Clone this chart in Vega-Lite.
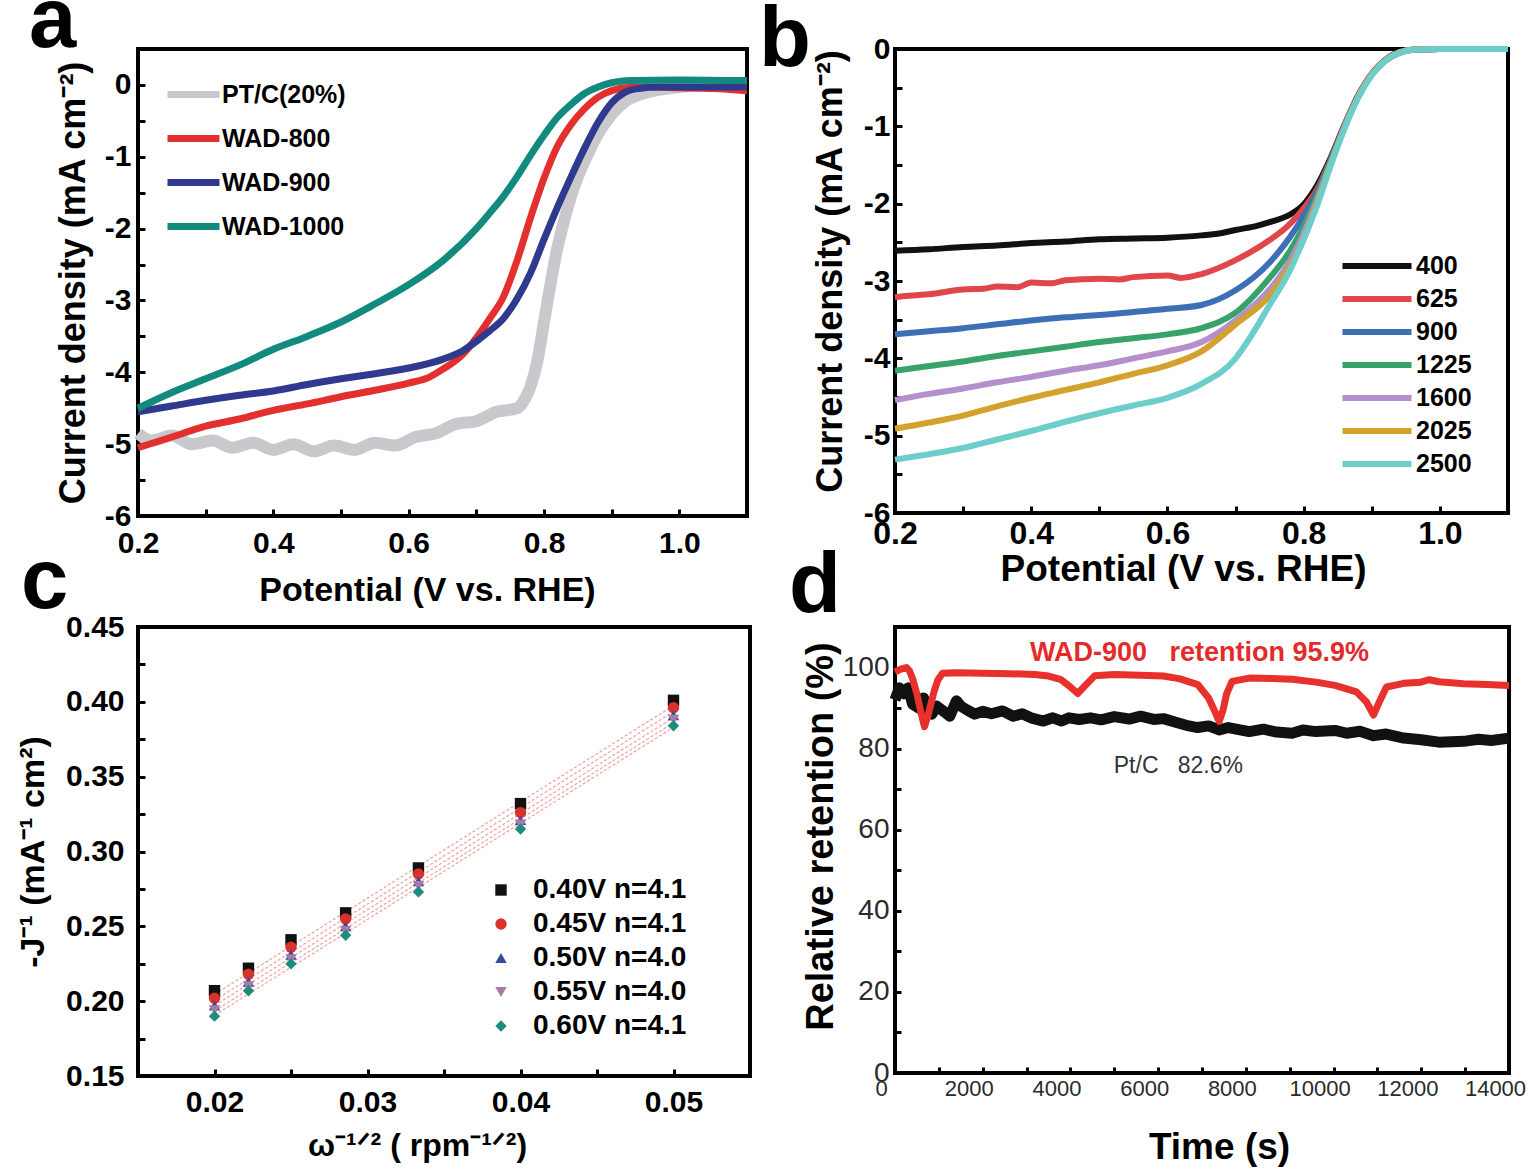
{
  "$schema": "https://vega.github.io/schema/vega-lite/v6.json",
  "background": "white",
  "padding": {"left": 14, "top": -23, "right": 0, "bottom": 0},
  "columns": 2,
  "bounds": "flush",
  "align": "each",
  "spacing": {"row": 111, "column": 145},
  "config": {
    "font": "Liberation Sans",
    "view": {"stroke": "black", "strokeWidth": 4},
    "axis": {
      "grid": false, "domain": false, "tickColor": "black", "tickWidth": 3, "tickSize": -7,
      "labelFont": "Liberation Sans", "labelFontWeight": "bold", "labelColor": "black",
      "titleFont": "Liberation Sans", "titleFontWeight": "bold", "titleColor": "black",
      "labelFlush": false, "labelOverlap": false, "labelBound": false
    },
    "title": {"anchor": "start", "frame": "group", "fontSize": 85, "font": "Liberation Sans", "fontWeight": "bold", "baseline": "alphabetic", "color": "black"},
    "legend": {"title": null, "orient": "none", "padding": 0, "labelFont": "Liberation Sans", "labelFontWeight": "bold", "labelColor": "black"}
  },
  "resolve": {
    "scale": {"color": "independent", "shape": "independent"},
    "legend": {"color": "independent", "shape": "independent"}
  },
  "datasets": {
    "lsv": [
      {"s": "PT/C(20%)", "V": 0.2, "J": -4.85}, {"s": "PT/C(20%)", "V": 0.22, "J": -4.95}, {"s": "PT/C(20%)", "V": 0.25, "J": -4.88},
      {"s": "PT/C(20%)", "V": 0.28, "J": -5.0}, {"s": "PT/C(20%)", "V": 0.31, "J": -4.95}, {"s": "PT/C(20%)", "V": 0.34, "J": -5.05},
      {"s": "PT/C(20%)", "V": 0.37, "J": -4.98}, {"s": "PT/C(20%)", "V": 0.4, "J": -5.08}, {"s": "PT/C(20%)", "V": 0.43, "J": -5.0},
      {"s": "PT/C(20%)", "V": 0.46, "J": -5.1}, {"s": "PT/C(20%)", "V": 0.49, "J": -5.02}, {"s": "PT/C(20%)", "V": 0.52, "J": -5.08},
      {"s": "PT/C(20%)", "V": 0.55, "J": -4.98}, {"s": "PT/C(20%)", "V": 0.58, "J": -5.02}, {"s": "PT/C(20%)", "V": 0.61, "J": -4.9},
      {"s": "PT/C(20%)", "V": 0.64, "J": -4.85}, {"s": "PT/C(20%)", "V": 0.67, "J": -4.72}, {"s": "PT/C(20%)", "V": 0.7, "J": -4.68},
      {"s": "PT/C(20%)", "V": 0.73, "J": -4.55}, {"s": "PT/C(20%)", "V": 0.76, "J": -4.5}, {"s": "PT/C(20%)", "V": 0.77, "J": -4.4},
      {"s": "PT/C(20%)", "V": 0.78, "J": -4.2}, {"s": "PT/C(20%)", "V": 0.79, "J": -3.85}, {"s": "PT/C(20%)", "V": 0.8, "J": -3.3},
      {"s": "PT/C(20%)", "V": 0.81, "J": -2.75}, {"s": "PT/C(20%)", "V": 0.82, "J": -2.26}, {"s": "PT/C(20%)", "V": 0.83, "J": -1.88},
      {"s": "PT/C(20%)", "V": 0.84, "J": -1.55}, {"s": "PT/C(20%)", "V": 0.85, "J": -1.28}, {"s": "PT/C(20%)", "V": 0.86, "J": -1.06},
      {"s": "PT/C(20%)", "V": 0.87, "J": -0.86}, {"s": "PT/C(20%)", "V": 0.88, "J": -0.68}, {"s": "PT/C(20%)", "V": 0.9, "J": -0.41},
      {"s": "PT/C(20%)", "V": 0.92, "J": -0.23}, {"s": "PT/C(20%)", "V": 0.95, "J": -0.11}, {"s": "PT/C(20%)", "V": 1.0, "J": -0.03},
      {"s": "PT/C(20%)", "V": 1.05, "J": 0.0}, {"s": "PT/C(20%)", "V": 1.1, "J": 0.0},

      {"s": "WAD-800", "V": 0.2, "J": -5.05}, {"s": "WAD-800", "V": 0.25, "J": -4.9}, {"s": "WAD-800", "V": 0.3, "J": -4.75},
      {"s": "WAD-800", "V": 0.35, "J": -4.65}, {"s": "WAD-800", "V": 0.4, "J": -4.53}, {"s": "WAD-800", "V": 0.45, "J": -4.44},
      {"s": "WAD-800", "V": 0.5, "J": -4.34}, {"s": "WAD-800", "V": 0.55, "J": -4.25}, {"s": "WAD-800", "V": 0.6, "J": -4.15},
      {"s": "WAD-800", "V": 0.63, "J": -4.07}, {"s": "WAD-800", "V": 0.65, "J": -3.96}, {"s": "WAD-800", "V": 0.68, "J": -3.75},
      {"s": "WAD-800", "V": 0.7, "J": -3.52}, {"s": "WAD-800", "V": 0.72, "J": -3.25}, {"s": "WAD-800", "V": 0.74, "J": -2.95},
      {"s": "WAD-800", "V": 0.76, "J": -2.45}, {"s": "WAD-800", "V": 0.78, "J": -1.85}, {"s": "WAD-800", "V": 0.8, "J": -1.3},
      {"s": "WAD-800", "V": 0.82, "J": -0.85}, {"s": "WAD-800", "V": 0.84, "J": -0.55}, {"s": "WAD-800", "V": 0.86, "J": -0.33},
      {"s": "WAD-800", "V": 0.88, "J": -0.17}, {"s": "WAD-800", "V": 0.9, "J": -0.08}, {"s": "WAD-800", "V": 0.92, "J": -0.04},
      {"s": "WAD-800", "V": 0.95, "J": -0.03}, {"s": "WAD-800", "V": 1.0, "J": -0.04}, {"s": "WAD-800", "V": 1.05, "J": -0.05},
      {"s": "WAD-800", "V": 1.1, "J": -0.08},

      {"s": "WAD-900", "V": 0.2, "J": -4.55}, {"s": "WAD-900", "V": 0.25, "J": -4.47}, {"s": "WAD-900", "V": 0.3, "J": -4.39},
      {"s": "WAD-900", "V": 0.35, "J": -4.32}, {"s": "WAD-900", "V": 0.4, "J": -4.26}, {"s": "WAD-900", "V": 0.45, "J": -4.17},
      {"s": "WAD-900", "V": 0.5, "J": -4.09}, {"s": "WAD-900", "V": 0.55, "J": -4.02}, {"s": "WAD-900", "V": 0.6, "J": -3.94},
      {"s": "WAD-900", "V": 0.65, "J": -3.82}, {"s": "WAD-900", "V": 0.68, "J": -3.7}, {"s": "WAD-900", "V": 0.7, "J": -3.57},
      {"s": "WAD-900", "V": 0.72, "J": -3.42}, {"s": "WAD-900", "V": 0.74, "J": -3.25}, {"s": "WAD-900", "V": 0.76, "J": -2.98},
      {"s": "WAD-900", "V": 0.78, "J": -2.62}, {"s": "WAD-900", "V": 0.8, "J": -2.15}, {"s": "WAD-900", "V": 0.82, "J": -1.7},
      {"s": "WAD-900", "V": 0.84, "J": -1.28}, {"s": "WAD-900", "V": 0.86, "J": -0.88}, {"s": "WAD-900", "V": 0.88, "J": -0.52},
      {"s": "WAD-900", "V": 0.9, "J": -0.25}, {"s": "WAD-900", "V": 0.92, "J": -0.1}, {"s": "WAD-900", "V": 0.94, "J": -0.05},
      {"s": "WAD-900", "V": 0.97, "J": -0.03}, {"s": "WAD-900", "V": 1.1, "J": -0.03},

      {"s": "WAD-1000", "V": 0.2, "J": -4.5}, {"s": "WAD-1000", "V": 0.25, "J": -4.28}, {"s": "WAD-1000", "V": 0.3, "J": -4.09},
      {"s": "WAD-1000", "V": 0.35, "J": -3.9}, {"s": "WAD-1000", "V": 0.4, "J": -3.68}, {"s": "WAD-1000", "V": 0.45, "J": -3.5},
      {"s": "WAD-1000", "V": 0.5, "J": -3.3}, {"s": "WAD-1000", "V": 0.55, "J": -3.05}, {"s": "WAD-1000", "V": 0.6, "J": -2.78},
      {"s": "WAD-1000", "V": 0.65, "J": -2.45}, {"s": "WAD-1000", "V": 0.7, "J": -2.0}, {"s": "WAD-1000", "V": 0.72, "J": -1.78},
      {"s": "WAD-1000", "V": 0.74, "J": -1.55}, {"s": "WAD-1000", "V": 0.76, "J": -1.28}, {"s": "WAD-1000", "V": 0.78, "J": -0.98},
      {"s": "WAD-1000", "V": 0.8, "J": -0.7}, {"s": "WAD-1000", "V": 0.82, "J": -0.45}, {"s": "WAD-1000", "V": 0.84, "J": -0.27},
      {"s": "WAD-1000", "V": 0.86, "J": -0.12}, {"s": "WAD-1000", "V": 0.88, "J": -0.03}, {"s": "WAD-1000", "V": 0.9, "J": 0.03},
      {"s": "WAD-1000", "V": 0.93, "J": 0.06}, {"s": "WAD-1000", "V": 1.0, "J": 0.07}, {"s": "WAD-1000", "V": 1.1, "J": 0.06}
    ],
    "rpm": [
      {"r": "400", "V": 0.2, "J": -2.61}, {"r": "400", "V": 0.25, "J": -2.59}, {"r": "400", "V": 0.3, "J": -2.56}, {"r": "400", "V": 0.35, "J": -2.54},
      {"r": "400", "V": 0.4, "J": -2.51}, {"r": "400", "V": 0.45, "J": -2.49}, {"r": "400", "V": 0.5, "J": -2.46}, {"r": "400", "V": 0.55, "J": -2.45},
      {"r": "400", "V": 0.6, "J": -2.44}, {"r": "400", "V": 0.65, "J": -2.41}, {"r": "400", "V": 0.68, "J": -2.38}, {"r": "400", "V": 0.7, "J": -2.34},
      {"r": "400", "V": 0.73, "J": -2.29}, {"r": "400", "V": 0.75, "J": -2.24}, {"r": "400", "V": 0.78, "J": -2.14}, {"r": "400", "V": 0.8, "J": -2.01},
      {"r": "400", "V": 0.82, "J": -1.76}, {"r": "400", "V": 0.84, "J": -1.4}, {"r": "400", "V": 0.86, "J": -0.98}, {"r": "400", "V": 0.88, "J": -0.6},
      {"r": "400", "V": 0.9, "J": -0.32}, {"r": "400", "V": 0.92, "J": -0.14}, {"r": "400", "V": 0.94, "J": -0.04}, {"r": "400", "V": 0.96, "J": -0.01},
      {"r": "400", "V": 1.0, "J": 0.0}, {"r": "400", "V": 1.1, "J": 0.0},

      {"r": "625", "V": 0.2, "J": -3.21}, {"r": "625", "V": 0.22, "J": -3.19}, {"r": "625", "V": 0.25, "J": -3.17}, {"r": "625", "V": 0.3, "J": -3.11},
      {"r": "625", "V": 0.33, "J": -3.1}, {"r": "625", "V": 0.35, "J": -3.07}, {"r": "625", "V": 0.38, "J": -3.08}, {"r": "625", "V": 0.4, "J": -3.02},
      {"r": "625", "V": 0.43, "J": -3.03}, {"r": "625", "V": 0.45, "J": -2.99}, {"r": "625", "V": 0.5, "J": -2.97}, {"r": "625", "V": 0.53, "J": -2.98},
      {"r": "625", "V": 0.55, "J": -2.95}, {"r": "625", "V": 0.6, "J": -2.93}, {"r": "625", "V": 0.62, "J": -2.96}, {"r": "625", "V": 0.65, "J": -2.91},
      {"r": "625", "V": 0.7, "J": -2.73}, {"r": "625", "V": 0.75, "J": -2.47}, {"r": "625", "V": 0.78, "J": -2.26}, {"r": "625", "V": 0.8, "J": -2.06},
      {"r": "625", "V": 0.82, "J": -1.81}, {"r": "625", "V": 0.84, "J": -1.42}, {"r": "625", "V": 0.86, "J": -0.99}, {"r": "625", "V": 0.88, "J": -0.61},
      {"r": "625", "V": 0.9, "J": -0.32}, {"r": "625", "V": 0.92, "J": -0.14}, {"r": "625", "V": 0.94, "J": -0.04}, {"r": "625", "V": 0.96, "J": -0.01},
      {"r": "625", "V": 1.0, "J": 0.0}, {"r": "625", "V": 1.1, "J": 0.0},

      {"r": "900", "V": 0.2, "J": -3.69}, {"r": "900", "V": 0.25, "J": -3.65}, {"r": "900", "V": 0.3, "J": -3.61}, {"r": "900", "V": 0.35, "J": -3.56},
      {"r": "900", "V": 0.4, "J": -3.51}, {"r": "900", "V": 0.45, "J": -3.47}, {"r": "900", "V": 0.5, "J": -3.44}, {"r": "900", "V": 0.55, "J": -3.4},
      {"r": "900", "V": 0.6, "J": -3.36}, {"r": "900", "V": 0.65, "J": -3.31}, {"r": "900", "V": 0.7, "J": -3.12}, {"r": "900", "V": 0.75, "J": -2.76},
      {"r": "900", "V": 0.78, "J": -2.43}, {"r": "900", "V": 0.8, "J": -2.16}, {"r": "900", "V": 0.82, "J": -1.84}, {"r": "900", "V": 0.84, "J": -1.43},
      {"r": "900", "V": 0.86, "J": -1.0}, {"r": "900", "V": 0.88, "J": -0.62}, {"r": "900", "V": 0.9, "J": -0.33}, {"r": "900", "V": 0.92, "J": -0.15},
      {"r": "900", "V": 0.94, "J": -0.05}, {"r": "900", "V": 0.96, "J": -0.01}, {"r": "900", "V": 1.0, "J": 0.0}, {"r": "900", "V": 1.1, "J": 0.0},

      {"r": "1225", "V": 0.2, "J": -4.16}, {"r": "1225", "V": 0.25, "J": -4.1}, {"r": "1225", "V": 0.3, "J": -4.04}, {"r": "1225", "V": 0.35, "J": -3.97},
      {"r": "1225", "V": 0.4, "J": -3.91}, {"r": "1225", "V": 0.45, "J": -3.85}, {"r": "1225", "V": 0.5, "J": -3.79}, {"r": "1225", "V": 0.55, "J": -3.74},
      {"r": "1225", "V": 0.6, "J": -3.69}, {"r": "1225", "V": 0.65, "J": -3.61}, {"r": "1225", "V": 0.7, "J": -3.41}, {"r": "1225", "V": 0.75, "J": -2.96},
      {"r": "1225", "V": 0.78, "J": -2.61}, {"r": "1225", "V": 0.8, "J": -2.29}, {"r": "1225", "V": 0.82, "J": -1.89}, {"r": "1225", "V": 0.84, "J": -1.45},
      {"r": "1225", "V": 0.86, "J": -1.0}, {"r": "1225", "V": 0.88, "J": -0.62}, {"r": "1225", "V": 0.9, "J": -0.33}, {"r": "1225", "V": 0.92, "J": -0.15},
      {"r": "1225", "V": 0.94, "J": -0.05}, {"r": "1225", "V": 0.96, "J": -0.01}, {"r": "1225", "V": 1.0, "J": 0.0}, {"r": "1225", "V": 1.1, "J": 0.0},

      {"r": "1600", "V": 0.2, "J": -4.54}, {"r": "1600", "V": 0.25, "J": -4.46}, {"r": "1600", "V": 0.3, "J": -4.39}, {"r": "1600", "V": 0.35, "J": -4.31},
      {"r": "1600", "V": 0.4, "J": -4.24}, {"r": "1600", "V": 0.45, "J": -4.16}, {"r": "1600", "V": 0.5, "J": -4.09}, {"r": "1600", "V": 0.55, "J": -4.0},
      {"r": "1600", "V": 0.6, "J": -3.91}, {"r": "1600", "V": 0.65, "J": -3.79}, {"r": "1600", "V": 0.7, "J": -3.51}, {"r": "1600", "V": 0.75, "J": -3.11},
      {"r": "1600", "V": 0.78, "J": -2.74}, {"r": "1600", "V": 0.8, "J": -2.39}, {"r": "1600", "V": 0.82, "J": -1.94}, {"r": "1600", "V": 0.84, "J": -1.47},
      {"r": "1600", "V": 0.86, "J": -1.01}, {"r": "1600", "V": 0.88, "J": -0.62}, {"r": "1600", "V": 0.9, "J": -0.33}, {"r": "1600", "V": 0.92, "J": -0.15},
      {"r": "1600", "V": 0.94, "J": -0.05}, {"r": "1600", "V": 0.96, "J": -0.01}, {"r": "1600", "V": 1.0, "J": 0.0}, {"r": "1600", "V": 1.1, "J": 0.0},

      {"r": "2025", "V": 0.2, "J": -4.91}, {"r": "2025", "V": 0.25, "J": -4.83}, {"r": "2025", "V": 0.3, "J": -4.74}, {"r": "2025", "V": 0.35, "J": -4.62},
      {"r": "2025", "V": 0.4, "J": -4.51}, {"r": "2025", "V": 0.45, "J": -4.41}, {"r": "2025", "V": 0.5, "J": -4.31}, {"r": "2025", "V": 0.55, "J": -4.2},
      {"r": "2025", "V": 0.6, "J": -4.09}, {"r": "2025", "V": 0.65, "J": -3.91}, {"r": "2025", "V": 0.7, "J": -3.56}, {"r": "2025", "V": 0.75, "J": -3.19},
      {"r": "2025", "V": 0.78, "J": -2.81}, {"r": "2025", "V": 0.8, "J": -2.46}, {"r": "2025", "V": 0.82, "J": -1.98}, {"r": "2025", "V": 0.84, "J": -1.48},
      {"r": "2025", "V": 0.86, "J": -1.02}, {"r": "2025", "V": 0.88, "J": -0.62}, {"r": "2025", "V": 0.9, "J": -0.33}, {"r": "2025", "V": 0.92, "J": -0.15},
      {"r": "2025", "V": 0.94, "J": -0.05}, {"r": "2025", "V": 0.96, "J": -0.01}, {"r": "2025", "V": 1.0, "J": 0.0}, {"r": "2025", "V": 1.1, "J": 0.0},

      {"r": "2500", "V": 0.2, "J": -5.31}, {"r": "2500", "V": 0.25, "J": -5.24}, {"r": "2500", "V": 0.3, "J": -5.16}, {"r": "2500", "V": 0.35, "J": -5.05},
      {"r": "2500", "V": 0.4, "J": -4.94}, {"r": "2500", "V": 0.45, "J": -4.82}, {"r": "2500", "V": 0.5, "J": -4.71}, {"r": "2500", "V": 0.55, "J": -4.61},
      {"r": "2500", "V": 0.6, "J": -4.51}, {"r": "2500", "V": 0.65, "J": -4.33}, {"r": "2500", "V": 0.7, "J": -4.0}, {"r": "2500", "V": 0.72, "J": -3.75},
      {"r": "2500", "V": 0.75, "J": -3.31}, {"r": "2500", "V": 0.78, "J": -2.86}, {"r": "2500", "V": 0.8, "J": -2.46}, {"r": "2500", "V": 0.82, "J": -2.02},
      {"r": "2500", "V": 0.84, "J": -1.5}, {"r": "2500", "V": 0.86, "J": -1.03}, {"r": "2500", "V": 0.88, "J": -0.63}, {"r": "2500", "V": 0.9, "J": -0.34},
      {"r": "2500", "V": 0.92, "J": -0.15}, {"r": "2500", "V": 0.94, "J": -0.05}, {"r": "2500", "V": 0.96, "J": -0.01}, {"r": "2500", "V": 1.0, "J": 0.0},
      {"r": "2500", "V": 1.1, "J": 0.0}
    ],
    "klpts": [
      {"s": "0.40V n=4.1", "w": 0.02, "J": 0.207}, {"s": "0.40V n=4.1", "w": 0.02222, "J": 0.222}, {"s": "0.40V n=4.1", "w": 0.025, "J": 0.241},
      {"s": "0.40V n=4.1", "w": 0.02857, "J": 0.259}, {"s": "0.40V n=4.1", "w": 0.03333, "J": 0.289}, {"s": "0.40V n=4.1", "w": 0.04, "J": 0.332},
      {"s": "0.40V n=4.1", "w": 0.05, "J": 0.401},
      {"s": "0.45V n=4.1", "w": 0.02, "J": 0.202}, {"s": "0.45V n=4.1", "w": 0.02222, "J": 0.218}, {"s": "0.45V n=4.1", "w": 0.025, "J": 0.236},
      {"s": "0.45V n=4.1", "w": 0.02857, "J": 0.255}, {"s": "0.45V n=4.1", "w": 0.03333, "J": 0.285}, {"s": "0.45V n=4.1", "w": 0.04, "J": 0.326},
      {"s": "0.45V n=4.1", "w": 0.05, "J": 0.396},
      {"s": "0.50V n=4.0", "w": 0.02, "J": 0.197}, {"s": "0.50V n=4.0", "w": 0.02222, "J": 0.213}, {"s": "0.50V n=4.0", "w": 0.025, "J": 0.231},
      {"s": "0.50V n=4.0", "w": 0.02857, "J": 0.25}, {"s": "0.50V n=4.0", "w": 0.03333, "J": 0.28}, {"s": "0.50V n=4.0", "w": 0.04, "J": 0.321},
      {"s": "0.50V n=4.0", "w": 0.05, "J": 0.391},
      {"s": "0.55V n=4.0", "w": 0.02, "J": 0.194}, {"s": "0.55V n=4.0", "w": 0.02222, "J": 0.21}, {"s": "0.55V n=4.0", "w": 0.025, "J": 0.228},
      {"s": "0.55V n=4.0", "w": 0.02857, "J": 0.247}, {"s": "0.55V n=4.0", "w": 0.03333, "J": 0.277}, {"s": "0.55V n=4.0", "w": 0.04, "J": 0.318},
      {"s": "0.55V n=4.0", "w": 0.05, "J": 0.388},
      {"s": "0.60V n=4.1", "w": 0.02, "J": 0.19}, {"s": "0.60V n=4.1", "w": 0.02222, "J": 0.207}, {"s": "0.60V n=4.1", "w": 0.025, "J": 0.225},
      {"s": "0.60V n=4.1", "w": 0.02857, "J": 0.244}, {"s": "0.60V n=4.1", "w": 0.03333, "J": 0.273}, {"s": "0.60V n=4.1", "w": 0.04, "J": 0.315},
      {"s": "0.60V n=4.1", "w": 0.05, "J": 0.384}
    ],
    "klfit": [
      {"s": "0.40V", "w": 0.02, "J": 0.2045}, {"s": "0.40V", "w": 0.05, "J": 0.3975},
      {"s": "0.45V", "w": 0.02, "J": 0.2005}, {"s": "0.45V", "w": 0.05, "J": 0.3935},
      {"s": "0.50V", "w": 0.02, "J": 0.197}, {"s": "0.50V", "w": 0.05, "J": 0.3895},
      {"s": "0.55V", "w": 0.02, "J": 0.1935}, {"s": "0.55V", "w": 0.05, "J": 0.386},
      {"s": "0.60V", "w": 0.02, "J": 0.1905}, {"s": "0.60V", "w": 0.05, "J": 0.383}
    ],
    "ptc": [
      {"t": 0, "v": 92}, {"t": 100, "v": 95}, {"t": 200, "v": 93.5}, {"t": 300, "v": 95}, {"t": 400, "v": 91},
      {"t": 545, "v": 90}, {"t": 650, "v": 92.5}, {"t": 750, "v": 89}, {"t": 839, "v": 88.5}, {"t": 950, "v": 90.5},
      {"t": 1132, "v": 89}, {"t": 1250, "v": 88}, {"t": 1400, "v": 91.8}, {"t": 1500, "v": 90.5}, {"t": 1650, "v": 89.5},
      {"t": 1817, "v": 88.5}, {"t": 2000, "v": 89.2}, {"t": 2200, "v": 88.6}, {"t": 2450, "v": 89.3}, {"t": 2697, "v": 88},
      {"t": 2900, "v": 88.6}, {"t": 3100, "v": 87.6}, {"t": 3382, "v": 86.8}, {"t": 3600, "v": 87.6}, {"t": 3800, "v": 86.8},
      {"t": 3968, "v": 87.6}, {"t": 4200, "v": 87.2}, {"t": 4457, "v": 87.6}, {"t": 4700, "v": 87.1}, {"t": 5000, "v": 87.9},
      {"t": 5338, "v": 87.3}, {"t": 5600, "v": 88}, {"t": 5900, "v": 87.2}, {"t": 6120, "v": 87.4}, {"t": 6400, "v": 86.5},
      {"t": 6700, "v": 85.6}, {"t": 6903, "v": 85.2}, {"t": 7150, "v": 85.6}, {"t": 7392, "v": 84.6}, {"t": 7600, "v": 85.2},
      {"t": 8076, "v": 84.2}, {"t": 8400, "v": 84.8}, {"t": 8700, "v": 84.1}, {"t": 9055, "v": 83.8}, {"t": 9300, "v": 84.6},
      {"t": 9600, "v": 84.2}, {"t": 10032, "v": 84.5}, {"t": 10300, "v": 83.8}, {"t": 10600, "v": 84.3}, {"t": 10912, "v": 83.2},
      {"t": 11200, "v": 83.6}, {"t": 11600, "v": 82.6}, {"t": 12000, "v": 82.2}, {"t": 12400, "v": 81.6}, {"t": 12966, "v": 81.8},
      {"t": 13300, "v": 82.3}, {"t": 13600, "v": 82.0}, {"t": 14000, "v": 82.6}
    ],
    "wad": [
      {"t": 0, "v": 98.9}, {"t": 130, "v": 99.6}, {"t": 262, "v": 100}, {"t": 330, "v": 99.2}, {"t": 400, "v": 97.3},
      {"t": 500, "v": 93.5}, {"t": 590, "v": 89}, {"t": 672, "v": 85.4}, {"t": 760, "v": 88.5}, {"t": 888, "v": 94},
      {"t": 980, "v": 97}, {"t": 1083, "v": 98.6}, {"t": 1400, "v": 98.7}, {"t": 2000, "v": 98.6}, {"t": 2600, "v": 98.5},
      {"t": 3186, "v": 98.3}, {"t": 3500, "v": 97.9}, {"t": 3773, "v": 97.1}, {"t": 4000, "v": 95.2}, {"t": 4164, "v": 93.6},
      {"t": 4330, "v": 95.5}, {"t": 4556, "v": 98}, {"t": 5000, "v": 98.3}, {"t": 5600, "v": 98.1}, {"t": 6120, "v": 97.9},
      {"t": 6500, "v": 97.2}, {"t": 6903, "v": 95.8}, {"t": 7150, "v": 92.5}, {"t": 7300, "v": 89}, {"t": 7392, "v": 86.7},
      {"t": 7480, "v": 89.5}, {"t": 7560, "v": 93.5}, {"t": 7685, "v": 96.6}, {"t": 8076, "v": 97.4}, {"t": 8600, "v": 97.3},
      {"t": 9055, "v": 97.1}, {"t": 9600, "v": 96.4}, {"t": 10032, "v": 95.6}, {"t": 10521, "v": 94}, {"t": 10750, "v": 91.5},
      {"t": 10912, "v": 88.3}, {"t": 11020, "v": 91}, {"t": 11206, "v": 95.2}, {"t": 11600, "v": 96.1}, {"t": 11988, "v": 96.4},
      {"t": 12184, "v": 97}, {"t": 12400, "v": 96.5}, {"t": 12966, "v": 96}, {"t": 13500, "v": 95.8}, {"t": 14000, "v": 95.6}
    ],
    "noteWad": [{"label": "WAD-900\u00a0\u00a0\u00a0retention 95.9%"}],
    "notePt": [{"label": "Pt/C\u00a0\u00a0\u00a082.6%"}]
  },
  "concat": [
    {
      "width": 609,
      "height": 467,
      "title": {"text": "a", "dx": -109, "offset": -16},
      "data": {"name": "lsv"},
      "encoding": {
        "x": {
          "field": "V", "type": "quantitative",
          "scale": {"domain": [0.2, 1.1], "nice": false, "zero": false},
          "axis": {
            "title": "Potential (V vs. RHE)",
            "values": [0.2, 0.3, 0.4, 0.5, 0.6, 0.7, 0.8, 0.9, 1.0],
            "labelExpr": "round(datum.value * 10) % 2 == 0 ? format(datum.value, '.1f') : ''",
            "labelFontSize": 30, "labelPadding": 19,
            "titleFontSize": 34, "titlePadding": 15, "titleX": 289
          }
        },
        "y": {
          "field": "J", "type": "quantitative",
          "scale": {"domain": [-6, 0.5], "nice": false, "zero": false},
          "axis": {
            "title": "Current density (mA cm⁻²)",
            "values": [-6, -5.5, -5, -4.5, -4, -3.5, -3, -2.5, -2, -1.5, -1, -0.5, 0],
            "labelExpr": "datum.value == round(datum.value) ? '' + datum.value : ''",
            "labelFontSize": 30, "labelPadding": 14,
            "titleFontSize": 36, "titlePadding": 12
          }
        },
        "color": {
          "field": "s", "type": "nominal",
          "scale": {"domain": ["PT/C(20%)", "WAD-800", "WAD-900", "WAD-1000"], "range": ["#c9c9cd", "#e3302e", "#2f3a8e", "#128a7e"]},
          "legend": {
            "legendX": 26, "legendY": 16, "symbolType": "stroke", "symbolSize": 2704, "symbolStrokeWidth": 7,
            "labelFontSize": 25, "rowPadding": -15, "labelOffset": -1
          }
        }
      },
      "layer": [
        {
          "transform": [{"filter": "datum.s == 'PT/C(20%)'"}],
          "mark": {"type": "line", "strokeWidth": 12, "strokeJoin": "round", "interpolate": "monotone"}
        },
        {
          "transform": [{"filter": "datum.s != 'PT/C(20%)'"}],
          "mark": {"type": "line", "strokeWidth": 7, "strokeJoin": "round", "interpolate": "monotone"}
        }
      ]
    },
    {
      "width": 613,
      "height": 464,
      "title": {"text": "b", "dx": -136, "offset": -50},
      "data": {"name": "rpm"},
      "mark": {"type": "line", "strokeWidth": 6, "strokeJoin": "round", "interpolate": "monotone"},
      "encoding": {
        "x": {
          "field": "V", "type": "quantitative",
          "scale": {"domain": [0.2, 1.1], "nice": false, "zero": false},
          "axis": {
            "title": "Potential (V vs. RHE)",
            "values": [0.2, 0.3, 0.4, 0.5, 0.6, 0.7, 0.8, 0.9, 1.0],
            "labelExpr": "round(datum.value * 10) % 2 == 0 ? format(datum.value, '.1f') : ''",
            "labelFontSize": 32, "labelPadding": 12,
            "titleFontSize": 37, "titlePadding": 2, "titleX": 288
          }
        },
        "y": {
          "field": "J", "type": "quantitative",
          "scale": {"domain": [-6, 0], "nice": false, "zero": false},
          "axis": {
            "title": "Current density (mA cm⁻²)",
            "values": [-6, -5.5, -5, -4.5, -4, -3.5, -3, -2.5, -2, -1.5, -1, -0.5, 0],
            "labelExpr": "datum.value == round(datum.value) ? '' + datum.value : ''",
            "labelFontSize": 30, "labelPadding": 12,
            "titleFontSize": 36, "titlePadding": 14, "titleY": 222
          }
        },
        "color": {
          "field": "r", "type": "nominal",
          "scale": {
            "domain": ["400", "625", "900", "1225", "1600", "2025", "2500"],
            "range": ["#111111", "#e0474a", "#3d6fb6", "#37a36b", "#b48fcb", "#d3a12c", "#6dcdca"]
          },
          "legend": {
            "legendX": 467, "legendY": 202, "symbolType": "M-3,0H3", "symbolSize": 530, "symbolStrokeWidth": 6,
            "labelFontSize": 25, "rowPadding": 5, "labelOffset": 24
          }
        }
      }
    },
    {
      "width": 612,
      "height": 449,
      "title": {"text": "c", "dx": -117, "offset": -14},
      "encoding": {
        "x": {
          "field": "w", "type": "quantitative",
          "scale": {"domain": [0.015, 0.055], "nice": false, "zero": false},
          "axis": {
            "title": "ω⁻¹ᐟ² ( rpm⁻¹ᐟ²)",
            "values": [0.02, 0.025, 0.03, 0.035, 0.04, 0.045, 0.05],
            "labelExpr": "round(datum.value * 1000) % 10 == 0 ? format(datum.value, '.2f') : ''",
            "labelFontSize": 30, "labelPadding": 18,
            "titleFontSize": 32, "titlePadding": 13, "titleX": 279
          }
        },
        "y": {
          "field": "J", "type": "quantitative",
          "scale": {"domain": [0.15, 0.45], "nice": false, "zero": false},
          "axis": {
            "title": "-J⁻¹ (mA⁻¹ cm²)",
            "values": [0.15, 0.175, 0.2, 0.225, 0.25, 0.275, 0.3, 0.325, 0.35, 0.375, 0.4, 0.425, 0.45],
            "labelExpr": "round(datum.value * 1000) % 50 == 0 ? format(datum.value, '.2f') : ''",
            "labelFontSize": 30, "labelPadding": 21,
            "titleFontSize": 34, "titlePadding": 15
          }
        }
      },
      "layer": [
        {
          "data": {"name": "klfit"},
          "mark": {"type": "line", "stroke": "#f2a0a0", "strokeWidth": 1.2, "strokeDash": [3, 2]},
          "encoding": {"detail": {"field": "s"}}
        },
        {
          "data": {"name": "klpts"},
          "mark": {"type": "point", "filled": true, "size": 130, "opacity": 1},
          "encoding": {
            "color": {
              "field": "s", "type": "nominal",
              "scale": {
                "domain": ["0.40V n=4.1", "0.45V n=4.1", "0.50V n=4.0", "0.55V n=4.0", "0.60V n=4.1"],
                "range": ["#111111", "#d8312e", "#3a4a9a", "#a97aa8", "#1e8c7c"]
              },
              "legend": {"legendX": 349, "legendY": 249, "symbolSize": 130, "labelFontSize": 28, "rowPadding": 6, "labelOffset": 18}
            },
            "shape": {
              "field": "s", "type": "nominal",
              "scale": {
                "domain": ["0.40V n=4.1", "0.45V n=4.1", "0.50V n=4.0", "0.55V n=4.0", "0.60V n=4.1"],
                "range": ["square", "circle", "triangle-up", "triangle-down", "diamond"]
              },
              "legend": {"legendX": 349, "legendY": 249, "symbolSize": 130, "labelFontSize": 28, "rowPadding": 6, "labelOffset": 18}
            }
          }
        }
      ]
    },
    {
      "width": 614,
      "height": 446,
      "title": {"text": "d", "dx": -106, "offset": -3},
      "layer": [
        {
          "data": {"name": "ptc"},
          "mark": {"type": "line", "stroke": "#111111", "strokeWidth": 11, "strokeJoin": "round"},
          "encoding": {
            "x": {
              "field": "t", "type": "quantitative",
              "scale": {"domain": [0, 14000], "nice": false, "zero": false},
              "axis": {
                "title": "Time (s)",
                "values": [0, 1000, 2000, 3000, 4000, 5000, 6000, 7000, 8000, 9000, 10000, 11000, 12000, 13000, 14000],
                "labelExpr": "datum.value % 2000 == 0 ? '' + datum.value : ''",
                "labelFontSize": 22, "labelFontWeight": "normal", "labelColor": "#2a2a2a", "labelPadding": 11, "labelOffset": -14,
                "tickSize": -6, "titleFontSize": 37, "titlePadding": 30, "titleX": 324
              }
            },
            "y": {
              "field": "v", "type": "quantitative",
              "scale": {"domain": [0, 110], "nice": false, "zero": false},
              "axis": {
                "title": "Relative retention (%)",
                "values": [0, 10, 20, 30, 40, 50, 60, 70, 80, 90, 100],
                "labelExpr": "datum.value % 20 == 0 ? '' + datum.value : ''",
                "labelFontSize": 28, "labelFontWeight": "normal", "labelColor": "#2a2a2a", "labelPadding": 12,
                "tickSize": -6, "titleFontSize": 38, "titlePadding": 2, "titleY": 209
              }
            }
          }
        },
        {
          "data": {"name": "wad"},
          "mark": {"type": "line", "stroke": "#e8302c", "strokeWidth": 7, "strokeJoin": "round"},
          "encoding": {
            "x": {"field": "t", "type": "quantitative"},
            "y": {"field": "v", "type": "quantitative"}
          }
        },
        {
          "data": {"name": "noteWad"},
          "mark": {"type": "text", "font": "Liberation Sans", "fontWeight": "bold", "fontSize": 27, "fill": "#e32b2b"},
          "encoding": {
            "x": {"datum": 6944, "type": "quantitative"},
            "y": {"datum": 103.6, "type": "quantitative"},
            "text": {"field": "label"}
          }
        },
        {
          "data": {"name": "notePt"},
          "mark": {"type": "text", "font": "Liberation Sans", "fontSize": 23, "fill": "#333333"},
          "encoding": {
            "x": {"datum": 6460, "type": "quantitative"},
            "y": {"datum": 75.6, "type": "quantitative"},
            "text": {"field": "label"}
          }
        }
      ]
    }
  ]
}
